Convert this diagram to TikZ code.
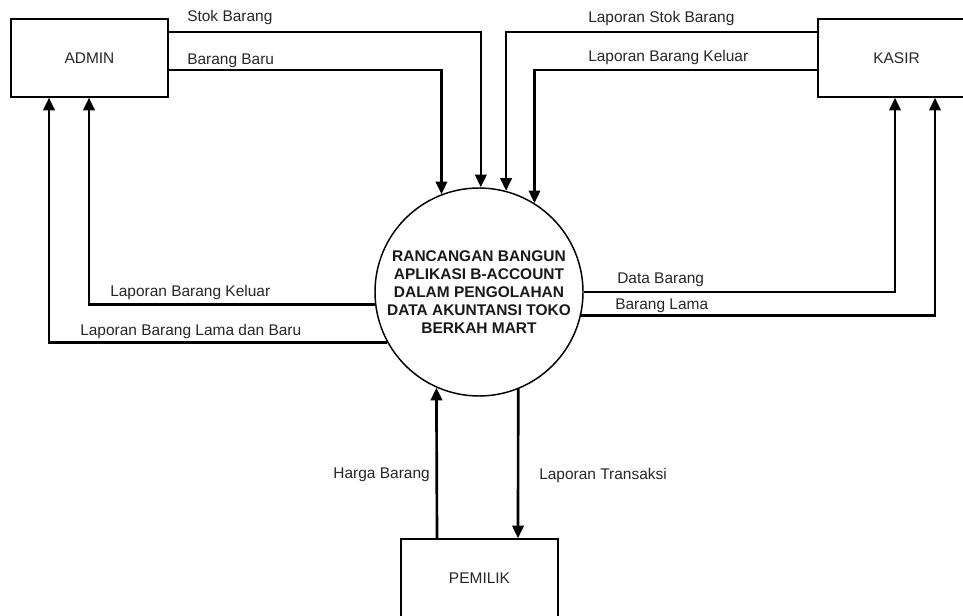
\documentclass[tikz,border=0pt]{standalone}
\usepackage{fontspec}
\setmainfont{Liberation Sans}
\usetikzlibrary{arrows.meta}
\begin{document}
\begin{tikzpicture}[x=0.75pt,y=-0.75pt,
  ent/.style={draw, line width=1.1pt, minimum width=157*0.75pt, minimum height=78*0.75pt, inner sep=0pt, font=\fontsize{11.6pt}{13pt}\selectfont, text=black!85},
  proc/.style={draw, line width=1.1pt, circle, minimum size=208*0.75pt, inner sep=0pt, align=center, font=\bfseries\fontsize{11.6pt}{13.6pt}\selectfont, text=black!90},
  flow/.style={line width=2pt, -{Triangle[length=9.5pt,width=8.5pt]}},
  lbl/.style={inner sep=0pt, font=\fontsize{11.6pt}{13pt}\selectfont, text=black!85}]
\useasboundingbox (0,0) rectangle (963,616);
\node[ent] (admin) at (89.5,58) {ADMIN};
\node[ent] (kasir) at (896.5,58) {KASIR};
\node[ent] (pemilik) at (479.5,578) {PEMILIK};
\node[proc] (circ) at (479,292) {RANCANGAN BANGUN\\APLIKASI B-ACCOUNT\\DALAM PENGOLAHAN\\DATA AKUNTANSI TOKO\\BERKAH MART};
% admin -> process
\draw[flow] (admin.east |- 0,32) -| (circ.89.4);
\draw[flow] (admin.east |- 0,70) -| (circ.111.4);
% kasir -> process
\draw[flow] (kasir.west |- 0,32) -| (circ.75.5);
\draw[flow] (kasir.west |- 0,70) -| (circ.58.7);
% process -> kasir
\draw[flow] (circ.east) -| (kasir.south -| 895,0);
\draw[flow] (circ.-13.9) -| (kasir.south -| 935,0);
% process -> admin
\draw[flow] (circ.187.2) -| (admin.south -| 89,0);
\draw[flow] (circ.209.4) -| (admin.south -| 49,0);
% pemilik <-> process
\draw[flow] (pemilik.north -| 437,0) -- (circ.246.2);
\draw[flow] (circ.-68) -- (pemilik.north -| 518,0);
% labels
\node[lbl, anchor=west] (l1) at (187,18) {Stok Barang};
\node[lbl, anchor=west] (l2) at (187,61) {Barang Baru};
\node[lbl, anchor=west] (l3) at (588,19) {Laporan Stok Barang};
\node[lbl, anchor=west] (l4) at (588,58) {Laporan Barang Keluar};
\node[lbl, anchor=west] (l5) at (617,280) {Data Barang};
\node[lbl, anchor=west] (l6) at (615,306) {Barang Lama};
\node[lbl, anchor=west] (l7) at (110,293) {Laporan Barang Keluar};
\node[lbl, anchor=west] (l8) at (80,332) {Laporan Barang Lama dan Baru};
\node[lbl, anchor=east] (l9) at (430,475) {Harga Barang};
\node[lbl, anchor=west] (l10) at (539,475) {Laporan Transaksi};
\end{tikzpicture}
\end{document}
